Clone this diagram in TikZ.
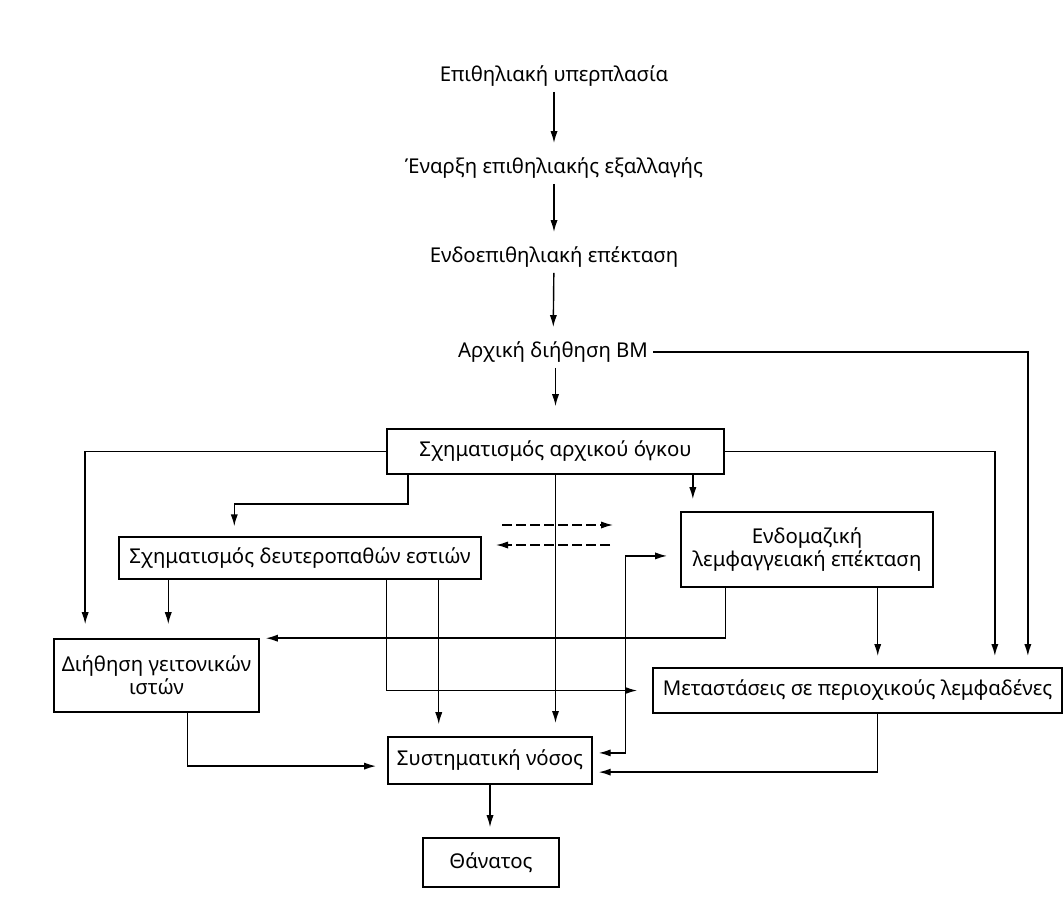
\documentclass[tikz,border=0pt]{standalone}
\usepackage{fontspec}
\setmainfont{Noto Sans}
\usetikzlibrary{positioning,arrows.meta,calc}

\begin{document}
\begin{tikzpicture}[x=0.025cm,y=-0.025cm,>={Latex[length=3mm,width=1.8mm]},
  font=\fontsize{14.5}{16.5}\selectfont,line width=1pt,
  block/.style={draw,inner sep=2pt,align=center},
  flow/.style={->,shorten >=0.3cm},
  backflow/.style={->,dash pattern=on 7pt off 3pt}]
\useasboundingbox[fill=white] (0,0) rectangle (1064,923);
% stages before invasion
\node (hyp) at (554,76) {Επιθηλιακή υπερπλασία};
\node (dys) at (554,168) {Έναρξη επιθηλιακής εξαλλαγής};
\node (ecs) at (554,257) {Ενδοεπιθηλιακή επέκταση};
\node (bm) at (553,352) {Αρχική διήθηση ΒΜ};
% boxes
\node[block,minimum width=8.43cm,minimum height=1.13cm] (prim) at (555.5,451.5) {Σχηματισμός αρχικού όγκου};
\node[block,minimum width=9.05cm,minimum height=1.05cm] (sec) at (300,558) {Σχηματισμός δευτεροπαθών εστιών};
\node[block,minimum width=6.3cm,minimum height=1.88cm] (lymph) at (807,549.5) {Ενδομαζική\\λεμφαγγειακή επέκταση};
\node[block,minimum width=5.13cm,minimum height=1.83cm] (local) at (156.5,675.5) {Διήθηση γειτονικών\\ιστών};
\node[block,minimum width=10.23cm,minimum height=1.13cm] (meta) at (857.5,690.5) {Μεταστάσεις σε περιοχικούς λεμφαδένες};
\node[block,minimum width=5.1cm,minimum height=1.18cm] (sys) at (490,760.5) {Συστηματική νόσος};
\node[block,minimum width=3.4cm,minimum height=1.23cm] (death) at (491,862.5) {Θάνατος};
% the chain
\draw[flow,shorten >=0.23cm] (hyp) -- (dys);
\draw[flow,shorten >=0.23cm] (dys) -- (ecs);
\draw[flow,shorten >=0.23cm] (ecs) -- (bm);
\draw[->,shorten >=0.55cm] (prim.north |- bm.south) -- (prim.north);
\draw[->,shorten >=0.28cm] (bm.east) -| ([xshift=-0.875cm]meta.north east);
% from the primary tumour
\draw[->,shorten >=0.35cm] (prim.west) -| ([xshift=0.8cm]local.north west);
\draw[->,shorten >=0.28cm] (prim.east) -| ([xshift=-1.7cm]meta.north east);
\draw[->,shorten >=0.25cm] ([xshift=0.55cm]prim.south west) -- ++(0,-0.725cm) -| ([xshift=2.9cm]sec.north west);
\coordinate (p1) at ([xshift=-0.8cm]prim.south east);
\draw[flow] (p1) -- (p1 |- lymph.north);
\draw[->,shorten >=0.33cm] (prim.south) -- (prim.south |- sys.north);
% exchange between foci and lymphatics
\coordinate (d1) at (502,525);
\coordinate (d2) at (613,525);
\coordinate (d3) at (610,545);
\coordinate (d4) at (496,545);
\draw[backflow] (d1) -- (d2);
\draw[backflow] (d3) -- (d4);
% from the secondary foci
\coordinate (s1) at ([xshift=1.25cm]sec.south west);
\draw[->,shorten >=0.35cm] (s1) -- (s1 |- local.north);
\coordinate (s2) at ([xshift=6.7cm]sec.south west);
\draw[->,shorten >=0.375cm] (s2) |- (meta.west);
\coordinate (s3) at ([xshift=-1.075cm]sec.south east);
\draw[->,shorten >=0.3cm] (s3) -- (s3 |- sys.north);
% from the lymphatic spread
\coordinate (l1) at ([xshift=1.125cm]lymph.south west);
\draw[->,shorten >=0.15cm] (l1) |- (local.north east);
\coordinate (l2) at ([xshift=-1.4cm]lymph.south east);
\draw[->,shorten >=0.28cm] (l2) -- (l2 |- meta.north);
\draw[<->,shorten <=0.15cm,shorten >=0.33cm] ([yshift=0.19cm]sys.east) -- ++(0.825cm,0) |- ([yshift=-0.16cm]lymph.west);
% into systemic disease
\coordinate (c1) at ([xshift=3.35cm]local.south west);
\draw[->,shorten >=0.28cm] (c1) |- ([yshift=-0.14cm]sys.west);
\coordinate (m1) at ([xshift=5.625cm]meta.south west);
\draw[->,shorten >=0.15cm] (m1) |- ([yshift=-0.29cm]sys.east);
\draw[->,shorten >=0.25cm] (sys.south) -- (sys.south |- death.north);
\end{tikzpicture}
\end{document}
